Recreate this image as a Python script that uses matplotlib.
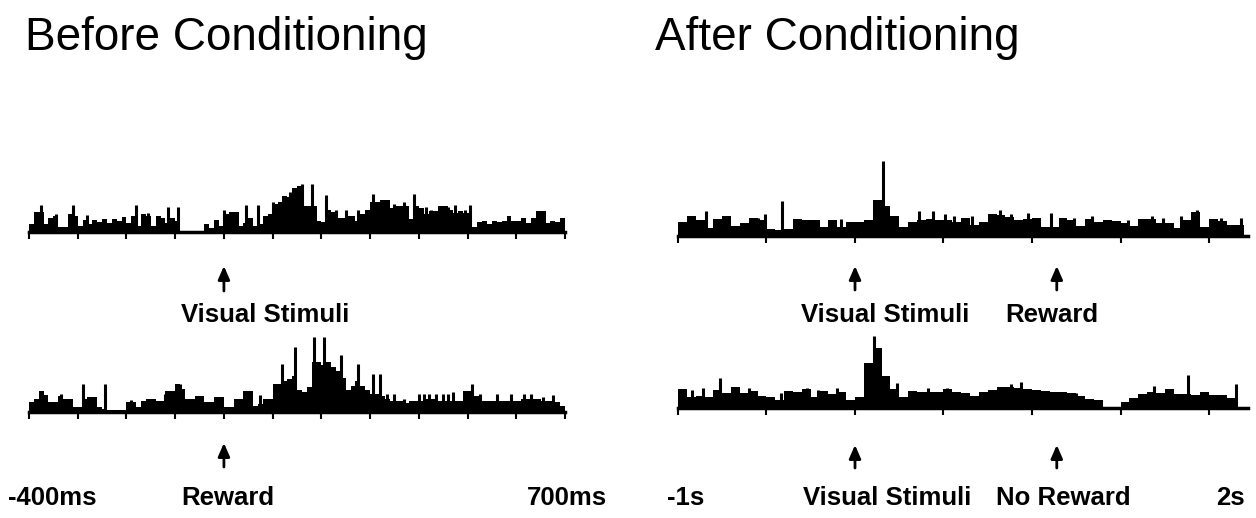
"""
Peri-event spike histograms before / after conditioning.
"""

import matplotlib

matplotlib.use("Agg")
import matplotlib.pyplot as plt
import numpy as np

matplotlib.rcParams["font.family"] = ["Liberation Sans", "DejaVu Sans"]

W, H = 1256, 518

# =========================================================================
#  Data (heights in spike-count units)
# =========================================================================

# Before conditioning: 10 ms bins from -400 ms to 700 ms
before_edges_ms = np.arange(-400, 701, 10)
before_cs_counts = [
    8, 20, 20, 8, 14, 16, 5, 5, 18, 16,
    6, 12, 8, 12, 10, 13, 9, 13, 11, 15,
    9, 16, 6, 18, 16, 6, 16, 14, 9, 14,
    11, 1, 1, 1, 1, 1, 8, 4, 12, 6,
    18, 20, 20, 6, 9, 14, 6, 8, 16, 18,
    28, 30, 36, 35, 44, 46, 26, 26, 26, 11,
    10, 22, 20, 14, 14, 16, 16, 11, 18, 22,
    30, 30, 32, 32, 24, 26, 26, 26, 13, 26,
    24, 18, 21, 21, 26, 26, 22, 19, 21, 19,
    19, 5, 10, 11, 8, 11, 10, 11, 16, 11,
    11, 14, 9, 14, 21, 21, 9, 11, 10, 14,
]
before_cs_spike_t = [-375, -345, -310, -280, -180, -155, -115, -95, 0, 45,
                     70, 100, 135, 160, 180, 210, 230, 250, 275, 305,
                     350, 370, 390, 415, 425, 460, 475, 495, 505, 695]
before_cs_spike_h = [27, 18, 27, 17, 27, 19, 25, 25, 22, 27,
                     27, 30, 40, 48, 48, 37, 22, 22, 22, 38,
                     28, 30, 38, 25, 22, 25, 27, 22, 27, 13]

before_rw_counts = [
    10, 13, 21, 17, 10, 10, 16, 13, 13, 5,
    5, 13, 15, 15, 5, 3, 2, 2, 2, 2,
    10, 10, 5, 11, 13, 13, 11, 11, 21, 21,
    28, 23, 13, 13, 16, 16, 10, 10, 15, 15,
    5, 5, 13, 13, 21, 21, 6, 8, 13, 13,
    28, 28, 31, 33, 36, 22, 20, 25, 50, 50,
    47, 50, 45, 41, 34, 22, 26, 31, 26, 22,
    18, 18, 16, 13, 11, 11, 11, 9, 11, 11,
    11, 13, 13, 13, 11, 11, 11, 11, 11, 21,
    21, 16, 16, 11, 11, 11, 11, 11, 11, 11,
    11, 13, 13, 13, 13, 11, 11, 11, 10, 6,
]
before_rw_spike_t = [-375, -335, -290, -245, -190, -145, -120, -90, 45, 75,
                     105, 120, 145, 185, 205, 240, 275, 305, 320, 335,
                     350, 370, 400, 410, 420, 435, 450, 460, 470, 510,
                     525, 560, 590, 615, 630, 655, 675]
before_rw_spike_h = [20, 18, 28, 28, 12, 13, 18, 28, 20, 17,
                     27, 48, 65, 75, 75, 57, 48, 38, 38, 18,
                     18, 13, 18, 18, 18, 18, 18, 18, 20, 28,
                     18, 18, 18, 18, 18, 15, 17]

# After conditioning: 50 ms bins from -1 s to 2.2 s
after_edges_s = np.round(np.arange(-1.0, 2.2001, 0.05), 3)
after_rw_counts = [
    14, 20, 16, 8, 17, 20, 10, 13, 18, 16,
    7, 6, 7, 17, 16, 16, 9, 16, 9, 14,
    14, 16, 36, 30, 20, 9, 14, 16, 17, 16,
    16, 14, 18, 11, 14, 22, 21, 19, 16, 17,
    18, 9, 9, 18, 16, 10, 17, 14, 16, 15,
    13, 10, 17, 17, 13, 13, 8, 16, 24, 9,
    17, 15, 11, 11,
]
after_rw_spike_t = [-0.84, -0.55, -0.51, -0.41, -0.28, -0.14, -0.08, 0.16, 0.36, 0.44,
                    0.51, 0.56, 0.66, 0.82, 0.88, 0.98, 1.11, 1.24, 1.34, 1.42,
                    1.54, 1.68, 1.74, 1.84, 1.93, 2.07, 2.18]
after_rw_spike_h = [25, 18, 22, 35, 16, 15, 17, 75, 25, 25,
                    22, 20, 20, 26, 22, 23, 23, 18, 20, 16,
                    16, 20, 18, 20, 26, 18, 18]

after_norw_counts = [
    19, 11, 12, 11, 18, 15, 21, 15, 17, 12,
    11, 8, 17, 16, 19, 11, 17, 14, 16, 8,
    11, 45, 60, 32, 19, 11, 17, 16, 16, 16,
    19, 16, 15, 12, 16, 18, 21, 21, 20, 19,
    18, 17, 16, 16, 15, 12, 9, 8, 0, 0,
    6, 10, 14, 16, 15, 19, 14, 14, 13, 16,
    13, 13, 10, 0,
]
after_norw_spike_t = [-0.92, -0.86, -0.76, -0.68, -0.60, -0.42, -0.27, -0.21, -0.10, 0.11,
                      0.24, 0.41, 0.52, 0.88, 0.94, 1.14, 1.25, 1.69, 1.77, 1.88,
                      1.99, 2.15]
after_norw_spike_h = [18, 20, 30, 18, 20, 15, 20, 18, 20, 72,
                      25, 20, 20, 24, 26, 15, 15, 22, 19, 33,
                      15, 24]

stim_t_ms = 0
stim_t_s = 0.0
reward_t_s = 1.14
left_ticks = np.arange(-400, 701, 100)
right_ticks = [-1, -0.5, 0, 0.5, 1, 1.5, 2]


# =========================================================================
#  Helpers
# =========================================================================


def add_panel(fig, xlim, px_lo, px_hi, baseline_px, bounds, ticks, height=90):
    ax = fig.add_axes([px_lo / W, (H - baseline_px) / H,
                       (px_hi - px_lo) / W, height / H])
    ax.set_xlim(*xlim)
    ax.set_ylim(0, height)
    for side in ("top", "left", "right"):
        ax.spines[side].set_visible(False)
    ax.spines["bottom"].set_linewidth(2.5)
    ax.spines["bottom"].set_bounds(*bounds)
    ax.set_xticks(ticks)
    ax.set_yticks([])
    ax.tick_params(axis="x", direction="out", length=5, width=1.5,
                   labelbottom=False)
    ax.patch.set_visible(False)
    return ax


def draw_psth(ax, edges, counts, spike_t, spike_h):
    ax.stairs(counts, edges, fill=True, color="black", linewidth=0)
    ax.vlines(spike_t, 0, spike_h, color="black", linewidth=2.2)


def arrow(ax, t, tip, tail):
    ax.annotate("", xy=(t, tip), xytext=(t, tail), annotation_clip=False,
                arrowprops=dict(arrowstyle="-|>,head_length=0.8,head_width=0.35",
                                color="black", lw=2, shrinkA=0, shrinkB=0))


def label(ax, t, y, s, ha="center"):
    ax.text(t, y, s, ha=ha, va="baseline", fontsize=18.5, fontweight="bold",
            clip_on=False)


# =========================================================================
#  Figure
# =========================================================================

fig = plt.figure(figsize=(W / 100, H / 100), dpi=100)

ppm = 0.4873  # px per ms
left_lo, left_hi = 29 - 10 * ppm, 29 + 1110 * ppm
pps = 177.0  # px per s
right_lo, right_hi = 855 - 1.05 * pps, 855 + 2.25 * pps

ax1 = add_panel(fig, (-410, 710), left_lo, left_hi, 232, (-400, 700), left_ticks)
draw_psth(ax1, before_edges_ms, before_cs_counts, before_cs_spike_t, before_cs_spike_h)
arrow(ax1, stim_t_ms, -34, -59)
label(ax1, 84, -90, "Visual Stimuli")

ax2 = add_panel(fig, (-410, 710), left_lo, left_hi, 412, (-400, 700), left_ticks)
draw_psth(ax2, before_edges_ms, before_rw_counts, before_rw_spike_t, before_rw_spike_h)
arrow(ax2, stim_t_ms, -31, -55)
label(ax2, 8, -93, "Reward")
label(ax2, -443, -93, "-400ms", ha="left")
label(ax2, 786, -93, "700ms", ha="right")

ax3 = add_panel(fig, (-1.05, 2.25), right_lo, right_hi, 236, (-1, 2.22), right_ticks)
draw_psth(ax3, after_edges_s, after_rw_counts, after_rw_spike_t, after_rw_spike_h)
arrow(ax3, stim_t_s, -30, -54)
arrow(ax3, reward_t_s, -30, -54)
label(ax3, 0.17, -86, "Visual Stimuli")
label(ax3, 1.11, -86, "Reward")

ax4 = add_panel(fig, (-1.05, 2.25), right_lo, right_hi, 408, (-1, 2.22), right_ticks)
draw_psth(ax4, after_edges_s, after_norw_counts, after_norw_spike_t, after_norw_spike_h)
arrow(ax4, stim_t_s, -37, -60)
arrow(ax4, reward_t_s, -37, -60)
label(ax4, -0.955, -97, "-1s")
label(ax4, 0.18, -97, "Visual Stimuli")
label(ax4, 1.175, -97, "No Reward")
label(ax4, 2.12, -97, "2s")

fig.text(25 / W, 1 - 50 / H, "Before Conditioning", fontsize=33, va="baseline")
fig.text(655 / W, 1 - 50 / H, "After Conditioning", fontsize=33, va="baseline")

fig.savefig("out.png", dpi=100)
